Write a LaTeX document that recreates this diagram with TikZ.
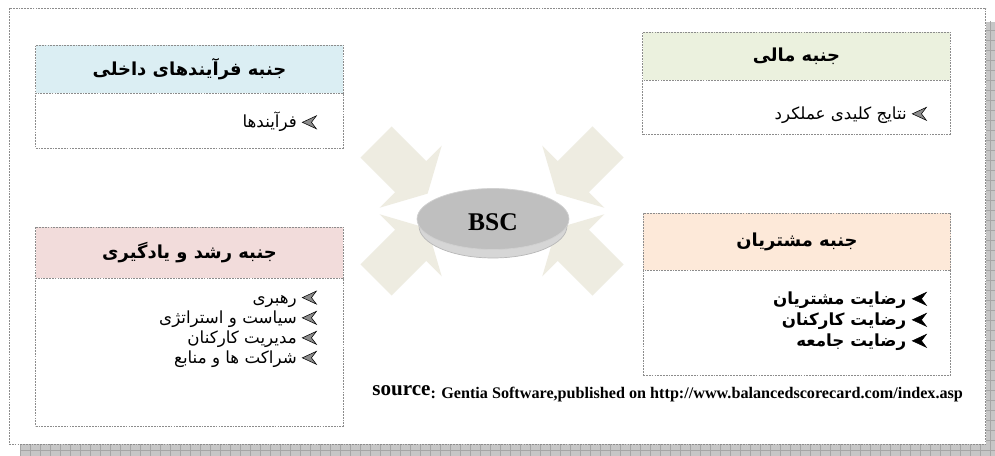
\documentclass[tikz,border=0pt]{standalone}
\usepackage{fontspec}
\setmainfont{Liberation Serif}
\newfontfamily\arabicfont[Script=Arabic]{DejaVu Sans}
\TeXXeTstate=1
\usetikzlibrary{shapes.geometric}

\definecolor{procblue}{RGB}{219,238,243}
\definecolor{fingreen}{RGB}{235,241,222}
\definecolor{growpink}{RGB}{242,220,219}
\definecolor{custpeach}{RGB}{253,233,217}
\definecolor{arrowbeige}{RGB}{238,236,225}

\newcommand{\hdfont}{\arabicfont\bfseries\fontsize{10.2}{12}\selectfont}
\newcommand{\itfont}{\arabicfont\fontsize{9.5}{11}\selectfont}
\newcommand{\itemmark}[1][black!45]{\tikz[baseline=-0.6ex,x=1pt,y=1pt]\filldraw[fill=#1,draw=black,line width=0.3pt] (0,0) -- (8,3.7) -- (5.2,0) -- (8,-3.7) -- cycle;}

\begin{document}
\begin{tikzpicture}[x=0.02cm,y=-0.02cm,
    box/.style={draw=gray!90, dash pattern=on 1pt off 0.6pt, line width=0.5pt, inner sep=0pt, outer sep=0pt},
    hd/.style={box, minimum width=6.15cm},
    bd/.style={box, fill=white, minimum width=6.15cm},
    blk/.style={fill=arrowbeige},
    it/.style={anchor=east, inner sep=0pt}]
\useasboundingbox (0,0) rectangle (995,456);

% shadow and frame
\fill[gray!45] (20,22) rectangle (995,456);
\begin{scope}
  \clip (20,22) rectangle (995,456);
  \draw[gray!70, line width=0.3pt, step=0.2cm] (0,0) grid (1000,460);
\end{scope}
\node[box, fill=white, minimum width=19.54cm, minimum height=8.72cm] (frame) at (497.5,226) {};

% arrows into the disc
\fill[blk, shift={(376,142)}, rotate=-45] (0,-22) -- (49,-22) -- (49,-44) -- (73,0) -- (49,44) -- (49,22) -- (0,22) -- cycle;
\fill[blk, shift={(608,142)}, rotate=-135] (0,-22) -- (49,-22) -- (49,-44) -- (73,0) -- (49,44) -- (49,22) -- (0,22) -- cycle;
\fill[blk, shift={(376,280)}, rotate=45] (0,-22) -- (49,-22) -- (49,-44) -- (73,0) -- (49,44) -- (49,22) -- (0,22) -- cycle;
\fill[blk, shift={(608,280)}, rotate=135] (0,-22) -- (49,-22) -- (49,-44) -- (73,0) -- (49,44) -- (49,22) -- (0,22) -- cycle;

% BSC disc
\filldraw[fill=black!16, draw=black!28] (493,226) ellipse [x radius=1.48cm, y radius=0.64cm];
\node[ellipse, fill=black!25, draw=black!18, minimum width=3.04cm, minimum height=1.22cm, inner sep=0pt] (bsc) at (493,219) {};
\node (bsctext) at (493,222) {\bfseries\fontsize{14.5}{16}\selectfont BSC};

% internal processes
\node[hd, fill=procblue, minimum height=0.96cm] (prochd) at (189.5,69) {\hdfont\beginR جنبه فرآیندهای داخلی\endR};
\node[bd, minimum height=1.1cm] (procbd) at (189.5,120.5) {};
\node[it] (proc1) at (317,122) {\itfont\beginR فرآیندها\endR\ \itemmark};

% financial
\node[hd, fill=fingreen, minimum height=0.96cm] (finhd) at (796.5,56) {\hdfont\beginR جنبه مالی\endR};
\node[bd, minimum height=1.08cm] (finbd) at (796.5,107) {};
\node[it] (fin1) at (927,115) {\itfont\beginR نتایج کلیدی عملکرد\endR\ \itemmark};

% learning and growth
\node[hd, fill=growpink, minimum height=1.02cm] (growhd) at (189.5,252.5) {\hdfont\beginR جنبه رشد و یادگیری\endR};
\node[bd, minimum height=2.96cm] (growbd) at (189.5,352) {};
\node[it] (grow1) at (317,299) {\itfont\beginR رهبری\endR\ \itemmark};
\node[it] (grow2) at (317,319) {\itfont\beginR سیاست و استراتژی\endR\ \itemmark};
\node[it] (grow3) at (317,339) {\itfont\beginR مدیریت کارکنان\endR\ \itemmark};
\node[it] (grow4) at (317,359) {\itfont\beginR شراکت ها و منابع\endR\ \itemmark};

% customer
\node[hd, fill=custpeach, minimum height=1.14cm] (custhd) at (797,241.5) {\hdfont\beginR جنبه مشتریان\endR};
\node[bd, minimum height=2.1cm] (custbd) at (797,322.5) {};
\node[it] (cust1) at (927,300) {\itfont\bfseries\beginR رضایت مشتریان\endR\ \itemmark[black]};
\node[it] (cust2) at (927,321) {\itfont\bfseries\beginR رضایت کارکنان\endR\ \itemmark[black]};
\node[it] (cust3) at (927,342) {\itfont\bfseries\beginR رضایت جامعه\endR\ \itemmark[black]};

% source line
\node[anchor=base west, inner sep=0pt] (src) at (372,395) {\bfseries{\fontsize{12}{14}\selectfont source}\raisebox{-2pt}{\fontsize{9.2}{11}\selectfont: Gentia Software,published on http://www.balancedscorecard.com/index.asp}};
\end{tikzpicture}
\end{document}
